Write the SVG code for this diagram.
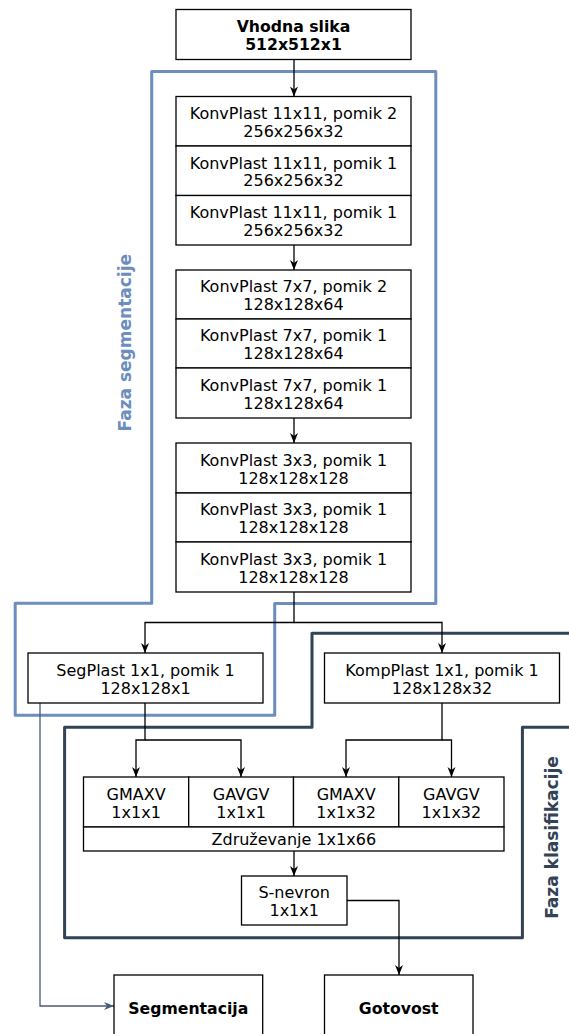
<svg xmlns="http://www.w3.org/2000/svg" width="569" height="1034" viewBox="0 0 569 1034">
<style>
.box{fill:#fff;stroke:#000;stroke-width:1.3}
.t{font-family:"DejaVu Sans",Verdana,sans-serif;font-size:16px;fill:#000;text-anchor:middle}
.b{font-weight:bold;font-size:15.7px}
.edge{fill:none;stroke:#000;stroke-width:1.3}
.edge2{fill:none;stroke:#4a5a78;stroke-width:1.3}
.phase{fill:none;stroke-width:3;stroke-linejoin:round}
.vt{font-family:"DejaVu Sans",Verdana,sans-serif;font-size:17px;font-weight:bold;text-anchor:middle}
</style>
<defs>
<marker id="arr" viewBox="0 0 10 10" refX="10" refY="5" markerWidth="10" markerHeight="10" markerUnits="userSpaceOnUse" orient="auto">
<path d="M0,1 L10,5 L0,9 L3,5 Z" fill="#000"/>
</marker>
<marker id="arr2" viewBox="0 0 10 10" refX="10" refY="5" markerWidth="10" markerHeight="10" markerUnits="userSpaceOnUse" orient="auto">
<path d="M0,1 L10,5 L0,9 L3,5 Z" fill="#4a5a78"/>
</marker>
</defs>

<g id="phase-segmentation">
<path class="phase" stroke="#6c8ebf" d="M151.7,71.5 H435.8 V603.5 H274.7 V715.3 H15.2 V603.3 H151.7 Z"/>
<text class="vt" fill="#6c8ebf" transform="translate(131,342.7) rotate(-90)">Faza segmentacije</text>
</g>
<g id="phase-classification">
<path class="phase" stroke="#314354" d="M569,633.3 H312 V727.3 H64.6 V937.7 H522.4 V727.3 H569"/>
<text class="vt" fill="#314354" transform="translate(557.5,837.5) rotate(-90)">Faza klasifikacije</text>
</g>

<g id="connectors">
<path class="edge" d="M294,59.5 V96.5" marker-end="url(#arr)"/>
<path class="edge" d="M294,245 V270" marker-end="url(#arr)"/>
<path class="edge" d="M294,418 V443" marker-end="url(#arr)"/>
<path class="edge" d="M294,592 V622.5 H145 V653" marker-end="url(#arr)"/>
<path class="edge" d="M294,622.5 H442 V653" marker-end="url(#arr)"/>
<path class="edge" d="M145,703 V740 H136 V777" marker-end="url(#arr)"/>
<path class="edge" d="M145,740 H241 V777" marker-end="url(#arr)"/>
<path class="edge" d="M442,703 V740 H346 V777" marker-end="url(#arr)"/>
<path class="edge" d="M442,740 H451.5 V777" marker-end="url(#arr)"/>
<path class="edge" d="M294,851 V876" marker-end="url(#arr)"/>
<path class="edge" d="M347,900.5 H399 V975" marker-end="url(#arr)"/>
<path class="edge2" d="M40,703 V1006 H114" marker-end="url(#arr2)"/>
</g>

<g id="input">
<rect class="box" x="176" y="9.5" width="235" height="50"/>
<text class="t b" x="293.5" y="31.7">Vhodna slika</text>
<text class="t b" x="293.5" y="50">512x512x1</text>
</g>
<g id="conv1">
<rect class="box" x="176" y="96.5" width="235" height="49.5"/>
<text class="t" x="293.5" y="119.3">KonvPlast 11x11, pomik 2</text>
<text class="t" x="293.5" y="137">256x256x32</text>
</g>
<g id="conv2">
<rect class="box" x="176" y="146" width="235" height="49.5"/>
<text class="t" x="293.5" y="168.5">KonvPlast 11x11, pomik 1</text>
<text class="t" x="293.5" y="186.3">256x256x32</text>
</g>
<g id="conv3">
<rect class="box" x="176" y="195.5" width="235" height="49.5"/>
<text class="t" x="293.5" y="218">KonvPlast 11x11, pomik 1</text>
<text class="t" x="293.5" y="235.8">256x256x32</text>
</g>
<g id="conv4">
<rect class="box" x="176" y="270" width="235" height="49"/>
<text class="t" x="293.5" y="292.2">KonvPlast 7x7, pomik 2</text>
<text class="t" x="293.5" y="310">128x128x64</text>
</g>
<g id="conv5">
<rect class="box" x="176" y="319" width="235" height="49"/>
<text class="t" x="293.5" y="341.2">KonvPlast 7x7, pomik 1</text>
<text class="t" x="293.5" y="359">128x128x64</text>
</g>
<g id="conv6">
<rect class="box" x="176" y="368" width="235" height="50"/>
<text class="t" x="293.5" y="390.7">KonvPlast 7x7, pomik 1</text>
<text class="t" x="293.5" y="408.5">128x128x64</text>
</g>
<g id="conv7">
<rect class="box" x="176" y="443" width="235" height="50"/>
<text class="t" x="293.5" y="465.7">KonvPlast 3x3, pomik 1</text>
<text class="t" x="293.5" y="483.5">128x128x128</text>
</g>
<g id="conv8">
<rect class="box" x="176" y="493" width="235" height="49"/>
<text class="t" x="293.5" y="515.2">KonvPlast 3x3, pomik 1</text>
<text class="t" x="293.5" y="533">128x128x128</text>
</g>
<g id="conv9">
<rect class="box" x="176" y="542" width="235" height="50"/>
<text class="t" x="293.5" y="564.7">KonvPlast 3x3, pomik 1</text>
<text class="t" x="293.5" y="582.5">128x128x128</text>
</g>
<g id="segplast">
<rect class="box" x="28" y="653" width="235" height="50"/>
<text class="t" x="145.5" y="675.7">SegPlast 1x1, pomik 1</text>
<text class="t" x="145.5" y="693.5">128x128x1</text>
</g>
<g id="kompplast">
<rect class="box" x="324.5" y="653" width="235" height="50"/>
<text class="t" x="442" y="675.7">KompPlast 1x1, pomik 1</text>
<text class="t" x="442" y="693.5">128x128x32</text>
</g>
<g id="gmaxv1">
<rect class="box" x="83.5" y="777" width="105.2" height="50"/>
<text class="t" x="136.1" y="799.7">GMAXV</text>
<text class="t" x="136.1" y="817.5">1x1x1</text>
</g>
<g id="gavgv1">
<rect class="box" x="188.7" y="777" width="104.8" height="50"/>
<text class="t" x="241.1" y="799.7">GAVGV</text>
<text class="t" x="241.1" y="817.5">1x1x1</text>
</g>
<g id="gmaxv2">
<rect class="box" x="293.5" y="777" width="105.3" height="50"/>
<text class="t" x="346.2" y="799.7">GMAXV</text>
<text class="t" x="346.2" y="817.5">1x1x32</text>
</g>
<g id="gavgv2">
<rect class="box" x="398.8" y="777" width="105.2" height="50"/>
<text class="t" x="451.4" y="799.7">GAVGV</text>
<text class="t" x="451.4" y="817.5">1x1x32</text>
</g>
<g id="concat">
<rect class="box" x="83.5" y="827" width="420.5" height="24"/>
<text class="t" x="293.8" y="845">Združevanje 1x1x66</text>
</g>
<g id="sneuron">
<rect class="box" x="241.5" y="876" width="105.5" height="49"/>
<text class="t" x="294.2" y="898.2">S-nevron</text>
<text class="t" x="294.2" y="916">1x1x1</text>
</g>
<g id="segmentation">
<rect class="box" x="114" y="975" width="148.7" height="70"/>
<text class="t b" x="188.3" y="1014">Segmentacija</text>
</g>
<g id="confidence">
<rect class="box" x="324.5" y="975" width="148.5" height="70"/>
<text class="t b" x="398.7" y="1014">Gotovost</text>
</g>
</svg>
